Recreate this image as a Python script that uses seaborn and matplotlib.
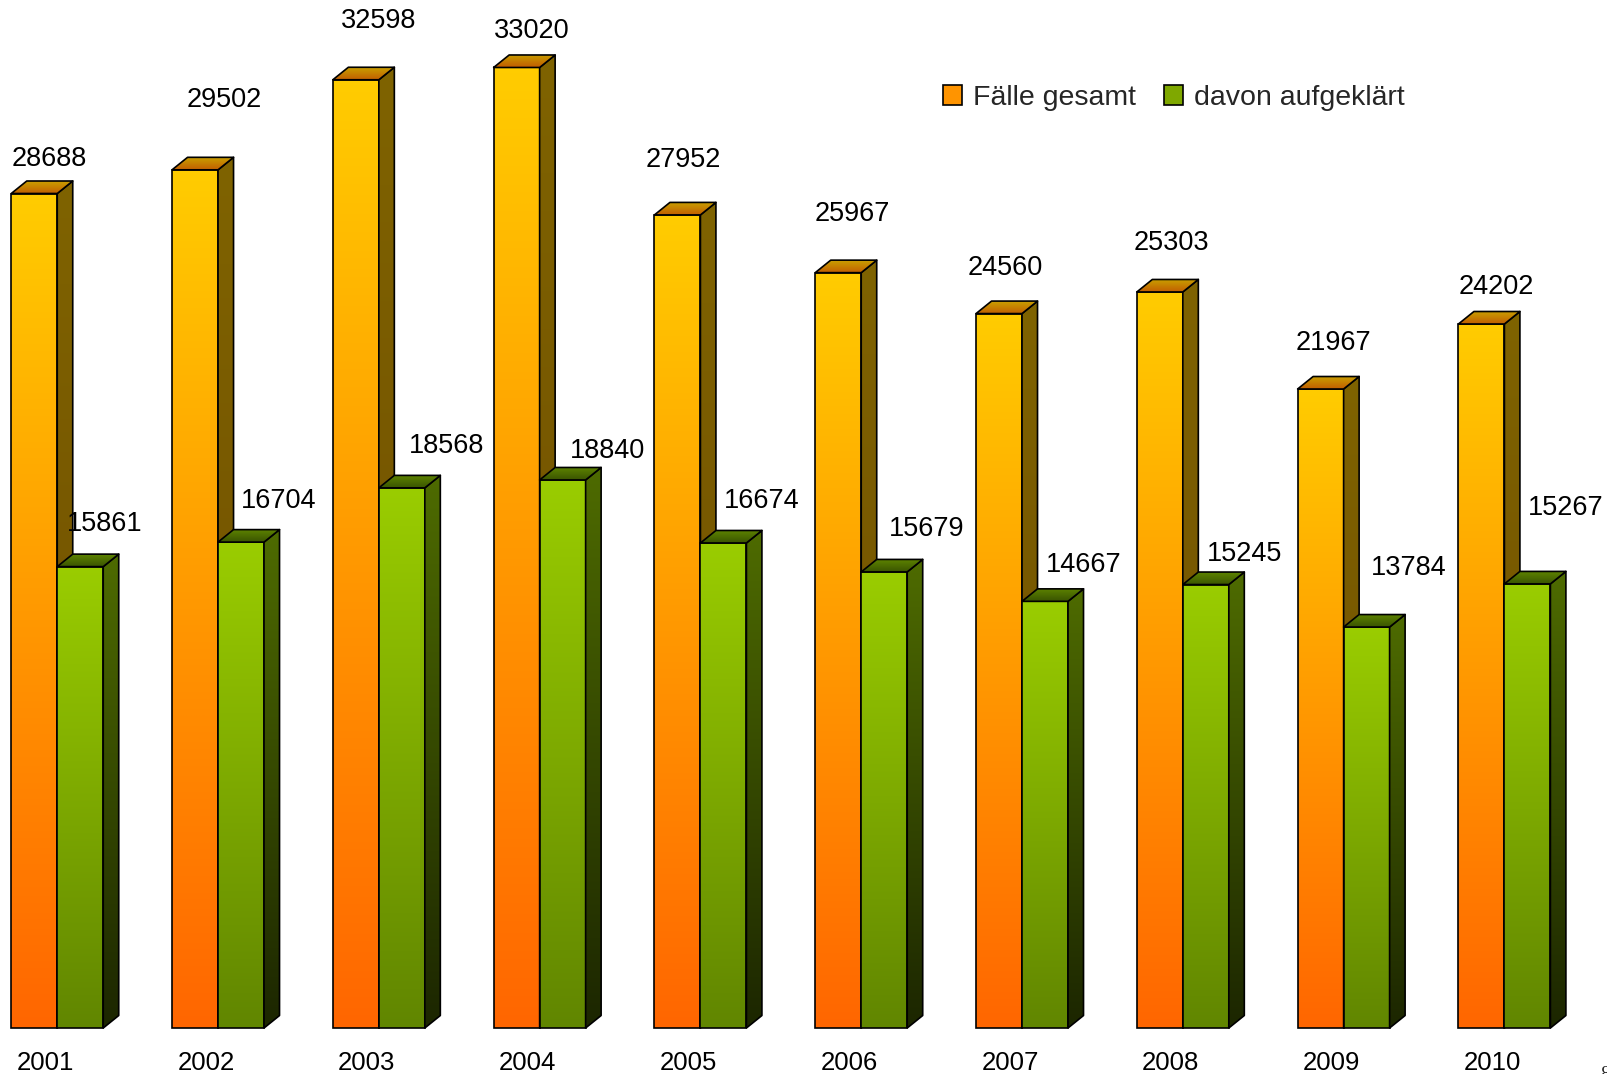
import numpy as np
import pandas as pd
import matplotlib
matplotlib.use("Agg")
import matplotlib.pyplot as plt
import seaborn as sns
from matplotlib.patches import Polygon, Patch
from matplotlib.colors import LinearSegmentedColormap

# ---------------- data ----------------
years = ['2001', '2002', '2003', '2004', '2005', '2006', '2007', '2008', '2009', '2010']
faelle_gesamt = [28688, 29502, 32598, 33020, 27952, 25967, 24560, 25303, 21967, 24202]
davon_aufgeklaert = [15861, 16704, 18568, 18840, 16674, 15679, 14667, 15245, 13784, 15267]
series_names = ['Fälle gesamt', 'davon aufgeklärt']

# label placement tweaks (pixels, relative to top centre of front face)
label_off_orange = [(15, 35), (29, 70), (23, 59), (15, 36), (6, 55), (14, 59), (6, 46), (12, 49), (13, 46), (15, 37)]
label_off_green = [(24, 43), (38, 41), (45, 42), (45, 29), (38, 42), (42, 43), (39, 36), (39, 31), (42, 59), (38, 76)]

df = pd.DataFrame({
    'year': years * 2,
    'value': faelle_gesamt + davon_aufgeklaert,
    'series': [series_names[0]] * len(years) + [series_names[1]] * len(years),
})

sns.set_theme(style='white')
plt.rcParams['font.family'] = ['Liberation Sans', 'DejaVu Sans']

W, H = 1607, 1074
fig = plt.figure(figsize=(W / 100, H / 100), dpi=100)
ax = fig.add_axes([0, 0, 1, 1])

sns.barplot(data=df, x='year', y='value', hue='series', order=years, hue_order=series_names,
            palette=['#FF9900', '#80AA00'], width=0.572, dodge=True, gap=0,
            saturation=1, legend=False, ax=ax)

XLIM = (-0.356, 9.638)
YLIM = (-1581, 35340)
ax.set_xlim(*XLIM)
ax.set_ylim(*YLIM)
ax.axis('off')

inv = ax.transData.inverted()
p0 = inv.transform((0, 0))
p1 = inv.transform((15.5, 12.5))
dx, dy = p1 - p0

styles = [
    dict(front=('#FFCC00', '#FF6600'), side=('#7F6300', '#6E4A00'), top=('#C9A000', '#C25E00')),
    dict(front=('#9ACD00', '#618600'), side=('#4E6B00', '#1C2600'), top=('#5E8400', '#3A5400')),
]


def grad(extent, c_top, c_bot, clip, z):
    cmap = LinearSegmentedColormap.from_list('g', [c_bot, c_top])
    img = ax.imshow(np.linspace(0, 1, 256).reshape(-1, 1), cmap=cmap, extent=extent,
                    origin='lower', aspect='auto', zorder=z, interpolation='bilinear')
    img.set_clip_path(clip)


lw = 1.2
for si, cont in enumerate(ax.containers[:2]):
    st = styles[si]
    zbase = 2 + si * 2
    for bar in cont:
        x, w, h = bar.get_x(), bar.get_width(), bar.get_height()
        # front face
        bar.set_facecolor('none')
        bar.set_edgecolor('black')
        bar.set_linewidth(lw)
        bar.set_zorder(zbase + 0.1)
        grad((x, x + w, 0, h), st['front'][0], st['front'][1], bar, zbase)
        # side face
        side = Polygon([(x + w, 0), (x + w + dx, dy), (x + w + dx, h + dy), (x + w, h)],
                       closed=True, facecolor='none', edgecolor='black', linewidth=lw,
                       zorder=zbase + 0.3, joinstyle='round')
        ax.add_patch(side)
        grad((x + w, x + w + dx, 0, h + dy), st['side'][0], st['side'][1], side, zbase + 0.2)
        # top face
        top = Polygon([(x, h), (x + dx, h + dy), (x + w + dx, h + dy), (x + w, h)],
                      closed=True, facecolor='none', edgecolor='black', linewidth=lw,
                      zorder=zbase + 0.5, joinstyle='round')
        ax.add_patch(top)
        grad((x, x + w + dx, h, h + dy), st['top'][0], st['top'][1], top, zbase + 0.4)

ax.set_xlim(*XLIM)
ax.set_ylim(*YLIM)

# value labels
for si, (cont, offs) in enumerate(zip(ax.containers[:2], [label_off_orange, label_off_green])):
    for bar, (ox, oy) in zip(cont, offs):
        cx = bar.get_x() + bar.get_width() / 2
        ax.annotate(f'{int(round(bar.get_height()))}', (cx, bar.get_height()),
                    xytext=(ox, oy), textcoords='offset pixels',
                    ha='center', va='center', fontsize=19.5, color='black', zorder=10)

# year labels
for i, yr in enumerate(years):
    ax.annotate(yr, (i, 0), xytext=(-12, -35), textcoords='offset pixels',
                ha='center', va='center', fontsize=18.5, color='black', annotation_clip=False)

# legend
handles = [Patch(facecolor='#FF9400', edgecolor='black', linewidth=1.2),
           Patch(facecolor='#7FA800', edgecolor='black', linewidth=1.2)]
fig.legend(handles, series_names, loc='center left', bbox_to_anchor=(943 / W, 1 - 98 / H),
           ncol=2, frameon=False, fontsize=20.5, handlelength=0.68, handleheight=0.68,
           handletextpad=0.36, columnspacing=1.0, borderpad=0, borderaxespad=0)

fig.text(1600 / W, 1 - 1066 / H, '8', fontsize=14, ha='left', va='top', family='Liberation Serif')

fig.savefig('out.png', dpi=100)
